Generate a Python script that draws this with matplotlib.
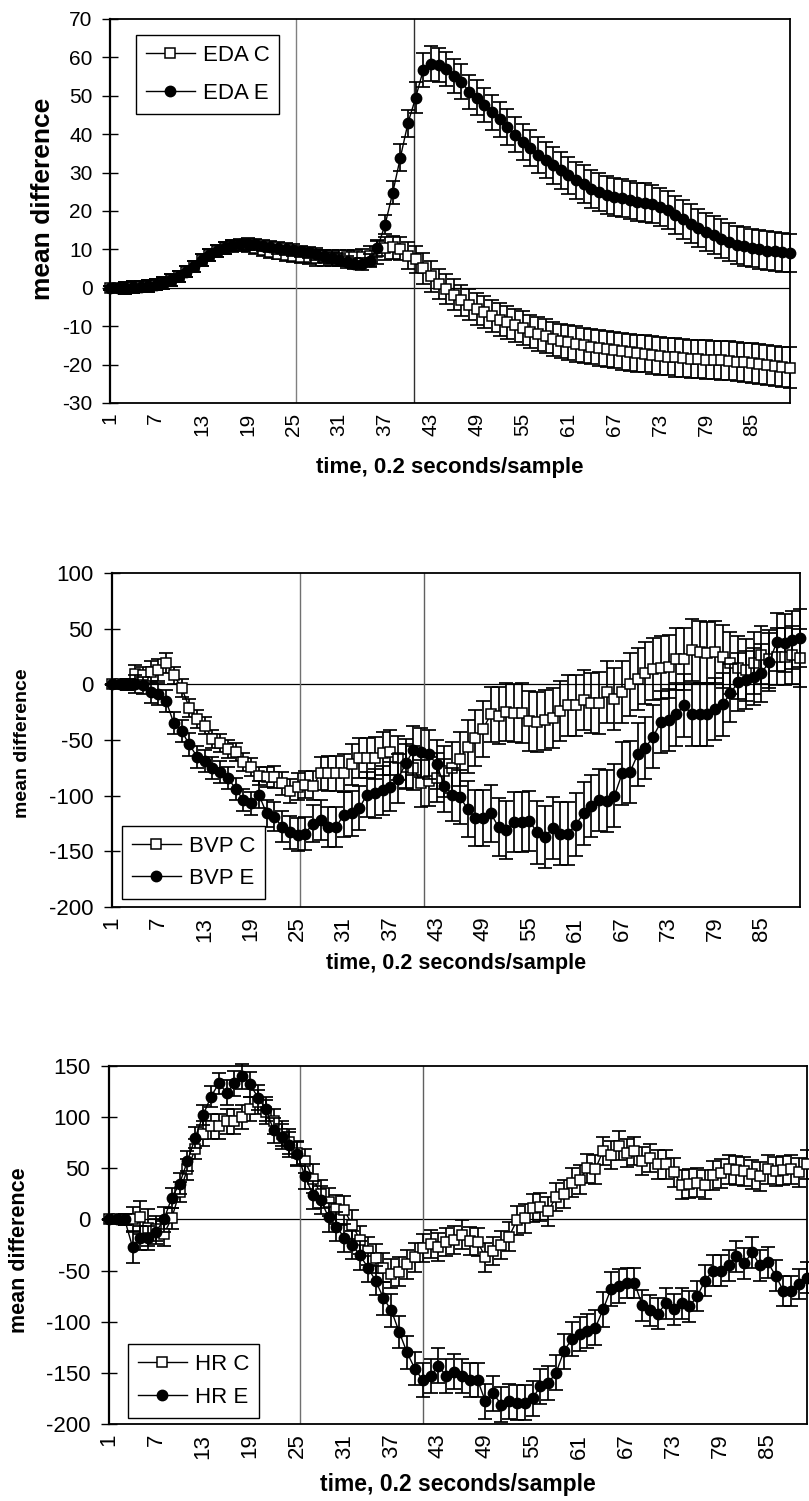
import matplotlib
matplotlib.use("Agg")
import matplotlib.pyplot as plt

plt.rcParams['font.family'] = ['Liberation Sans', 'DejaVu Sans']

# ---------------- data ----------------
samples = list(range(1, 91))
xtick_labels = ['1', '7', '13', '19', '25', '31', '37', '43', '49', '55', '61', '67', '73', '79', '85']

eda_c = [0, 0, 0, 0.2, 0.3, 0.5, 0.8, 1.2, 2, 3,
         4.2, 5.6, 7.2, 8.6, 9.6, 10.4, 10.9, 11, 10.8, 10.3,
         9.8, 9.3, 8.9, 8.5, 8.2, 8, 7.9, 7.8, 7.8, 7.8,
         7.8, 7.9, 7.9, 8, 8.3, 9.2, 10.3, 10.6, 10.2, 8.4,
         7.4, 5.1, 3, 1, -0.3, -1.8, -3.3, -4.4, -5.5, -6.3,
         -7.4, -8.3, -9, -9.8, -10.5, -11.4, -12, -12.6, -13.3, -13.8,
         -14.2, -14.6, -15, -15.3, -15.6, -15.9, -16.2, -16.5, -16.8, -17,
         -17.2, -17.5, -17.7, -17.9, -18.1, -18.3, -18.5, -18.6, -18.7, -18.8,
         -18.9, -19, -19.2, -19.4, -19.6, -19.9, -20.2, -20.4, -20.6, -20.8]
eda_c_err = [0.5, 1, 1.5, 1.5, 1.5, 1.5, 1.5, 1.5, 1.5, 1.5,
             1.5, 1.5, 1.5, 1.5, 1.5, 1.5, 1.5, 1.5, 1.5, 1.5,
             1.5, 1.5, 1.5, 1.5, 1.5, 1.5, 1.8, 2, 2, 2,
             2, 2, 2, 2, 2.5, 3, 3, 3, 3, 3.5,
             3.5, 4, 4, 4, 4, 4, 4, 4, 4.2, 4.2,
             4.2, 4.3, 4.3, 4.3, 4.4, 4.4, 4.4, 4.5, 4.5, 4.5,
             4.5, 4.6, 4.6, 4.6, 4.7, 4.7, 4.7, 4.8, 4.8, 4.8,
             4.8, 4.9, 4.9, 4.9, 5, 5, 5, 5, 5, 5,
             5, 5.1, 5.1, 5.1, 5.2, 5.2, 5.2, 5.3, 5.3, 5.3]
eda_e = [0, 0, 0, 0.2, 0.3, 0.5, 0.8, 1.2, 2, 3,
         4.2, 5.6, 7.2, 8.6, 9.6, 10.4, 11, 11.3, 11.4, 11.3,
         11, 10.7, 10.4, 10.1, 9.8, 9.5, 9.2, 8.8, 8.3, 7.8,
         7.2, 6.7, 6.3, 6.2, 7.1, 10.4, 16.4, 24.7, 33.9, 42.9,
         49.5, 56.7, 58.4, 58, 57, 55.2, 53.7, 51, 49.5, 47.6,
         45.7, 43.9, 41.9, 39.9, 38, 36.3, 34.5, 33.2, 31.9, 30.6,
         29.3, 28, 27.1, 25.8, 25, 24.1, 23.7, 23.4, 22.8, 22.3,
         22.2, 21.9, 21, 20.2, 18.9, 17.8, 16.7, 15.6, 14.5, 13.7,
         12.8, 11.9, 11.2, 10.8, 10.3, 10, 9.7, 9.5, 9.2, 9.1]
eda_e_err = [0.5, 1, 1.5, 1.5, 1.5, 1.5, 1.5, 1.5, 1.5, 1.5,
             1.5, 1.5, 1.5, 1.5, 1.5, 1.5, 1.5, 1.5, 1.5, 1.5,
             1.5, 1.5, 1.5, 1.5, 1.5, 1.5, 1.5, 1.5, 1.5, 1.5,
             1.5, 1.5, 1.5, 1.5, 1.8, 2, 2.5, 3, 3.5, 3.5,
             4, 4.5, 4.5, 4.5, 4.5, 4.5, 4.5, 4.5, 4.5, 4.5,
             4.6, 4.6, 4.6, 4.6, 4.7, 4.7, 4.7, 4.7, 4.8, 4.8,
             4.8, 4.8, 4.9, 4.9, 4.9, 4.9, 5, 5, 5, 5,
             5, 5, 5, 5, 5, 5, 5, 5, 5, 5,
             5, 5, 5, 5, 5, 5, 5, 5, 5, 5]

bvp_c = [0, 0, 0, 9, 8, 11, 13, 19, 8, -3,
         -21, -31, -37, -49, -53, -58, -61, -70, -74, -82,
         -83, -83, -89, -96, -92, -90, -91, -80, -80, -80,
         -80, -72, -66, -66, -66, -62, -61, -66, -74, -75,
         -89, -87, -84, -78, -75, -67, -56, -48, -40, -27,
         -28, -25, -26, -26, -33, -34, -32, -30, -24, -19,
         -19, -14, -17, -17, -7, -13, -7, 0, 5, 10,
         14, 15, 16, 23, 23, 31, 29, 28, 29, 25,
         19, 15, 13, 19, 26, 23, 25, 25, 26, 24]
bvp_c_err = [0.5, 3, 5, 8, 8, 10, 10, 9, 8, 8,
             8, 8, 8, 8, 8, 8, 8, 8, 8, 8,
             9, 10, 10, 11, 12, 12, 13, 15, 16, 16,
             17, 18, 18, 18, 19, 19, 20, 20, 20, 20,
             21, 22, 22, 23, 23, 24, 24, 25, 25, 25,
             26, 26, 26, 27, 27, 27, 27, 27, 27, 27,
             27, 27, 27, 28, 28, 28, 28, 28, 28, 28,
             28, 28, 28, 28, 28, 28, 28, 28, 28, 28,
             28, 28, 28, 28, 26, 26, 26, 26, 26, 26]
bvp_e = [0, 0, 0, 0, -1, -7, -9, -15, -35, -42,
         -54, -65, -69, -75, -79, -84, -94, -104, -107, -99,
         -116, -119, -128, -133, -135, -134, -125, -122, -128, -128,
         -117, -116, -111, -99, -98, -95, -92, -85, -71, -59,
         -61, -63, -72, -91, -99, -101, -112, -120, -120, -116,
         -128, -131, -124, -124, -123, -133, -137, -129, -134, -134,
         -126, -116, -109, -104, -105, -100, -80, -79, -63, -57,
         -47, -34, -32, -27, -19, -27, -27, -27, -22, -18,
         -8, 2, 4, 7, 10, 20, 38, 37, 40, 42]
bvp_e_err = [0.5, 3, 5, 8, 8, 10, 10, 10, 10, 10,
             10, 10, 10, 10, 10, 10, 10, 10, 10, 12,
             12, 13, 14, 15, 15, 15, 17, 18, 18, 18,
             20, 20, 20, 20, 22, 22, 22, 22, 22, 22,
             22, 22, 22, 24, 24, 24, 25, 25, 25, 26,
             26, 26, 27, 27, 27, 28, 28, 28, 28, 28,
             28, 28, 28, 28, 28, 28, 28, 28, 28, 28,
             28, 28, 28, 28, 28, 28, 28, 28, 28, 28,
             26, 26, 26, 26, 26, 26, 26, 26, 26, 26]

hr_c = [0, 0, 0, 0, 2, -8, -9, -14, 1, 27,
        49, 69, 84, 91, 91, 96, 96, 100, 108, 115,
        105, 96, 84, 76, 65, 57, 40, 25, 17, 10,
        9, -5, -20, -31, -38, -47, -53, -51, -44, -37,
        -28, -24, -27, -22, -20, -15, -21, -22, -37, -31,
        -25, -17, -1, 1, 11, 12, 8, 22, 25, 36,
        39, 50, 49, 67, 63, 72, 65, 67, 57, 60,
        54, 54, 46, 34, 35, 36, 34, 43, 45, 49,
        48, 47, 44, 42, 49, 47, 48, 49, 46, 54]
hr_c_err = [0.5, 2, 5, 12, 16, 18, 12, 12, 10, 10,
            10, 10, 12, 12, 12, 12, 12, 12, 12, 12,
            12, 12, 12, 12, 12, 12, 14, 14, 14, 14,
            14, 14, 14, 14, 14, 14, 14, 14, 14, 14,
            14, 14, 14, 14, 14, 14, 14, 14, 14, 14,
            14, 14, 14, 14, 14, 14, 14, 14, 14, 14,
            14, 14, 14, 14, 14, 14, 14, 14, 14, 14,
            14, 14, 14, 14, 14, 14, 14, 14, 14, 14,
            14, 14, 14, 14, 14, 14, 14, 14, 14, 14]
hr_e = [0, 0, 0, -27, -18, -18, -12, 0, 21, 35,
        57, 80, 102, 120, 133, 124, 133, 140, 132, 119,
        108, 87, 81, 73, 64, 42, 24, 19, 2, -7,
        -18, -25, -35, -47, -60, -77, -89, -110, -130, -146,
        -157, -153, -143, -153, -149, -153, -157, -157, -178, -170,
        -181, -178, -179, -179, -175, -163, -160, -150, -129, -117,
        -112, -109, -106, -88, -68, -65, -62, -62, -84, -89,
        -92, -82, -88, -82, -85, -75, -60, -50, -50, -45,
        -36, -43, -32, -45, -42, -55, -70, -70, -63, -57]
hr_e_err = [0.5, 2, 5, 16, 12, 12, 12, 12, 10, 10,
            10, 10, 10, 10, 10, 12, 12, 12, 12, 12,
            12, 12, 12, 12, 12, 12, 14, 14, 14, 14,
            14, 14, 14, 14, 14, 16, 16, 16, 16, 16,
            17, 17, 17, 17, 17, 17, 17, 17, 17, 17,
            17, 17, 17, 17, 17, 17, 17, 17, 17, 17,
            17, 17, 17, 17, 17, 17, 15, 15, 15, 15,
            15, 15, 15, 15, 15, 15, 15, 15, 15, 15,
            15, 15, 15, 15, 15, 15, 15, 15, 15, 15]

eda_names = ['EDA C', 'EDA E']
bvp_names = ['BVP C', 'BVP E']
hr_names = ['HR C', 'HR E']
eda_markers = [25.4, 40.8]
bvp_markers = [25.3, 41.3]
hr_markers = [25.3, 41.1]

# ---------------- figure ----------------
W, H = 809, 1501
fig = plt.figure(figsize=(W / 100, H / 100), dpi=100)


def px_axes(l, t, r, b):
    return fig.add_axes([l / W, 1 - b / H, (r - l) / W, (b - t) / H])


def draw_panel(ax, c, ce, e, ee, names, ylim, ystep, vlines, vcolors,
               tick_fs, ypad, leg_anchor, leg_loc, leg_fs, leg_ls):
    ax.set_xlim(1, 90)
    ax.set_ylim(*ylim)
    ax.axhline(0, color='black', lw=0.9, zorder=1)
    for v, col in zip(vlines, vcolors):
        ax.axvline(v, color=col, lw=1.0, zorder=1)
    handles = []
    for vals, errs, mk, fc, z in ((c, ce, 's', 'white', 2), (e, ee, 'o', 'black', 4)):
        eb = ax.errorbar(samples, vals, yerr=errs, fmt='none', ecolor='black',
                         elinewidth=1.25, capsize=4.8, capthick=1.25, zorder=z)
        for art in eb.get_children():
            art.set_clip_on(False)
        ln, = ax.plot(samples, vals, '-', marker=mk, color='black', lw=1.0,
                      mfc=fc, mec='black', mew=1.1, ms=7.4, zorder=z + 1, clip_on=False)
        handles.append(ln)
    tick_pos = [int(t) for t in xtick_labels]
    ax.set_xticks(tick_pos)
    ax.set_xticklabels(xtick_labels, rotation=90)
    ax.tick_params(axis='x', length=0, pad=7, labelsize=tick_fs)
    yt = list(range(ylim[0], ylim[1] + 1, ystep))
    ax.set_yticks(yt)
    ax.set_yticklabels([str(v) for v in yt])
    ax.tick_params(axis='y', direction='inout', length=11, width=1.0, pad=ypad, labelsize=tick_fs)
    for s in ax.spines.values():
        s.set_linewidth(1.3)
        s.set_color('black')
    ax.spines['left'].set_linewidth(1.6)
    leg = ax.legend(handles, names, loc=leg_loc,
                    bbox_to_anchor=(leg_anchor[0] / W, 1 - leg_anchor[1] / H),
                    bbox_transform=fig.transFigure, borderaxespad=0,
                    fontsize=leg_fs, handlelength=2.2, handletextpad=0.35,
                    labelspacing=leg_ls, borderpad=0.45, fancybox=False,
                    edgecolor='black', framealpha=1, numpoints=1)
    leg.get_frame().set_linewidth(1.0)
    leg.set_zorder(10)


# Panel 1: EDA
ax1 = px_axes(110, 19, 790, 403)
draw_panel(ax1, eda_c, eda_c_err, eda_e, eda_e_err, eda_names, (-30, 70), 10,
           eda_markers, ['#808080', '#303030'], 15, 7, (136, 35), 'upper left', 16, 0.75)
fig.text(43 / W, 1 - 199 / H, 'mean difference', rotation=90, ha='center', va='center',
         fontsize=19, fontweight='bold')
fig.text(450 / W, 1 - 467 / H, 'time, 0.2 seconds/sample', ha='center', va='center',
         fontsize=16, fontweight='bold')

# Panel 2: BVP
ax2 = px_axes(112, 573, 800, 907)
draw_panel(ax2, bvp_c, bvp_c_err, bvp_e, bvp_e_err, bvp_names, (-200, 100), 50,
           bvp_markers, ['#707070', '#606060'], 16, 8, (122, 899), 'lower left', 16, 0.5)
fig.text(23 / W, 1 - 743 / H, 'mean difference', rotation=90, ha='center', va='center',
         fontsize=14, fontweight='bold')
fig.text(456 / W, 1 - 964 / H, 'time, 0.2 seconds/sample', ha='center', va='center',
         fontsize=15.5, fontweight='bold')

# Panel 3: HR
ax3 = px_axes(109, 1066, 807, 1424)
draw_panel(ax3, hr_c, hr_c_err, hr_e, hr_e_err, hr_names, (-200, 150), 50,
           hr_markers, ['#707070', '#606060'], 16, 8, (128, 1418), 'lower left', 16, 0.55)
fig.text(20 / W, 1 - 1250 / H, 'mean difference', rotation=90, ha='center', va='center',
         fontsize=15.5, fontweight='bold')
fig.text(458 / W, 1 - 1484 / H, 'time, 0.2 seconds/sample', ha='center', va='center',
         fontsize=16.5, fontweight='bold')

fig.savefig('out.png', dpi=100, facecolor='white')
